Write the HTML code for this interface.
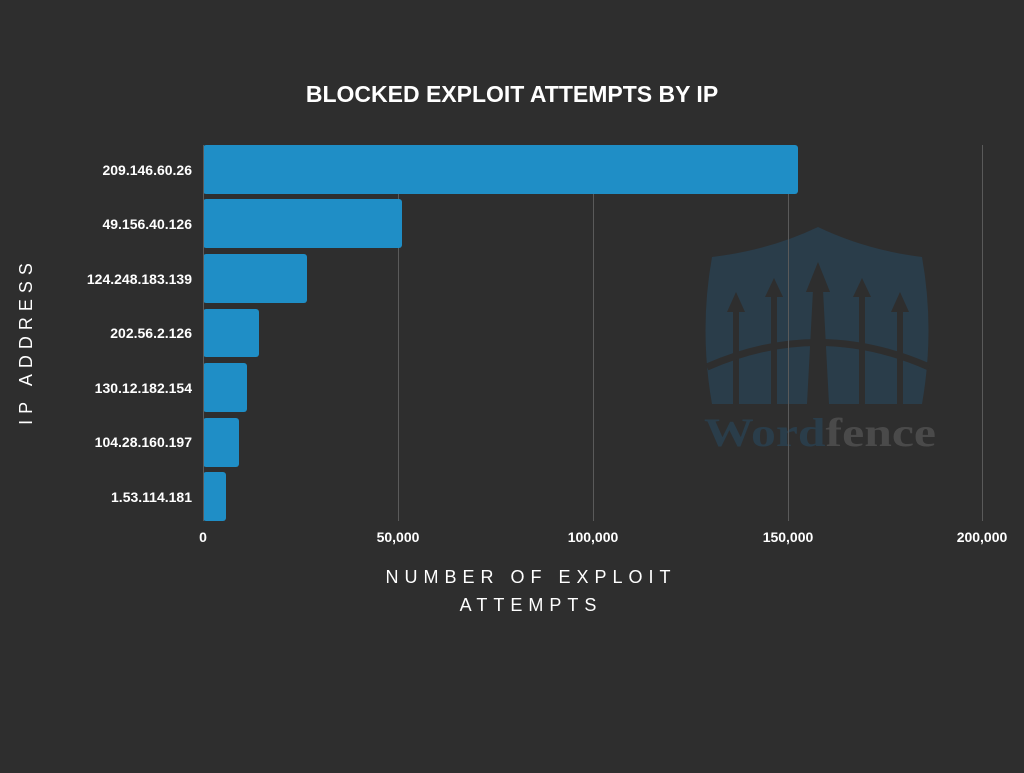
<!DOCTYPE html>
<html><head><meta charset="utf-8"><style>
body{margin:0;background:#2e2e2e;}
svg text{font-family:"Liberation Sans",sans-serif;}
</style></head><body>
<svg width="1024" height="768" viewBox="0 0 1024 768" xmlns="http://www.w3.org/2000/svg">
<rect width="1024" height="768" fill="#2e2e2e"/>
<g>
<path d="M712,257 Q770,250 818,227 Q866,250 922,257 Q935,330 922,404 L712,404 Q699,330 712,257 Z" fill="#2a3d4a"/>
<g fill="#2e2e2e">
<rect x="733" y="310" width="6" height="94"/><polygon points="727,312 736,292 745,312"/>
<rect x="771" y="295" width="6" height="109"/><polygon points="765,297 774,278 783,297"/>
<polygon points="813,290 823,290 829,404 807,404"/><polygon points="806,292 818,262 830,292"/>
<rect x="859" y="295" width="6" height="109"/><polygon points="853,297 862,278 871,297"/>
<rect x="897" y="310" width="6" height="94"/><polygon points="891,312 900,292 909,312"/>
<path d="M707,367 Q818,318 929,367" stroke="#2e2e2e" stroke-width="7" fill="none"/>
</g>
<text x="704" y="446" style="font-family:'Liberation Serif',serif;font-weight:bold;font-size:40px" textLength="232" lengthAdjust="spacingAndGlyphs" fill="#2a3d4a">Word<tspan fill="#4a4a4a">fence</tspan></text>
</g>
<g stroke="#5a5a5a" stroke-width="1">
<line x1="398.5" y1="145" x2="398.5" y2="521"/>
<line x1="593.5" y1="145" x2="593.5" y2="521"/>
<line x1="788.5" y1="145" x2="788.5" y2="521"/>
<line x1="982.5" y1="145" x2="982.5" y2="521"/>
</g>
<g fill="#1f8ec6">
<rect x="203" y="145" width="595" height="49" rx="3"/>
<rect x="203" y="199" width="199" height="49" rx="3"/>
<rect x="203" y="254" width="104" height="49" rx="3"/>
<rect x="203" y="309" width="56" height="48" rx="3"/>
<rect x="203" y="363" width="44" height="49" rx="3"/>
<rect x="203" y="418" width="36" height="49" rx="3"/>
<rect x="203" y="472" width="23" height="49" rx="3"/>
</g>
<line x1="203.5" y1="145" x2="203.5" y2="521" stroke="#5a5a5a"/>
<g fill="#fff" font-size="14" font-weight="bold" text-anchor="end">
<text x="192" y="175">209.146.60.26</text>
<text x="192" y="229">49.156.40.126</text>
<text x="192" y="284">124.248.183.139</text>
<text x="192" y="338">202.56.2.126</text>
<text x="192" y="393">130.12.182.154</text>
<text x="192" y="447">104.28.160.197</text>
<text x="192" y="502">1.53.114.181</text>
</g>
<g fill="#fff" font-size="14" font-weight="bold" text-anchor="middle">
<text x="203" y="542">0</text>
<text x="398" y="542">50,000</text>
<text x="593" y="542">100,000</text>
<text x="788" y="542">150,000</text>
<text x="982" y="542">200,000</text>
</g>
<text x="512" y="102" fill="#fff" font-size="23" font-weight="bold" text-anchor="middle">BLOCKED EXPLOIT ATTEMPTS BY IP</text>
<g fill="#fff" font-size="18" text-anchor="middle" letter-spacing="6">
<text x="531" y="583">NUMBER OF EXPLOIT</text>
<text x="531" y="611">ATTEMPTS</text>
<text transform="translate(32,341) rotate(-90)">IP ADDRESS</text>
</g>
</svg>
</body></html>
